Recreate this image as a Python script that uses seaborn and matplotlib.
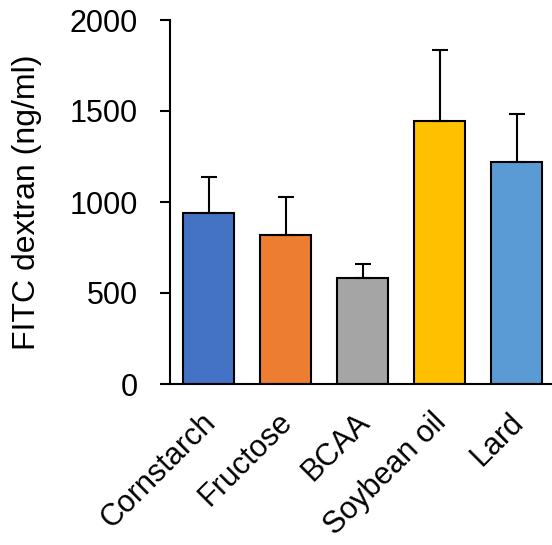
import pandas as pd
import seaborn as sns
import matplotlib.pyplot as plt
import matplotlib.transforms as mtransforms

# datos
grupos = ["Cornstarch", "Fructose", "BCAA", "Soybean oil", "Lard"]
media = [942, 816, 580, 1444, 1219]
error = [194, 214, 80, 390, 267]
colores = ["#4472C4", "#ED7D31", "#A5A5A5", "#FFC000", "#5B9BD5"]

df = pd.DataFrame({"grupo": grupos, "fitc": media, "sd": error})

sns.set_style("ticks")
plt.rcParams["font.family"] = ["Liberation Sans", "DejaVu Sans"]
plt.rcParams["text.color"] = "black"
plt.rcParams["xtick.color"] = "black"
plt.rcParams["ytick.color"] = "black"
plt.rcParams["axes.labelcolor"] = "black"
plt.rcParams["axes.edgecolor"] = "black"

fig = plt.figure(figsize=(5.52, 5.45), dpi=100)
ax = fig.add_axes([170 / 552, 1 - 384 / 545, 382 / 552, 364 / 545])

sns.barplot(data=df, x="grupo", y="fitc", hue="grupo", palette=colores,
            saturation=1, width=0.67, edgecolor="black", linewidth=1.5,
            errorbar=None, legend=False, ax=ax)

# solo barra de error superior
ax.errorbar(range(len(grupos)), df["fitc"], yerr=[[0] * len(grupos), df["sd"]],
            fmt="none", ecolor="black", elinewidth=1.5, capsize=5.5, capthick=1.5)

ax.set_ylim(0, 2000)
ax.set_xlim(-0.5, 4.46)
ax.set_yticks([0, 500, 1000, 1500, 2000])
ax.tick_params(axis="y", labelsize=22, length=7, width=1.5, pad=16)
ax.tick_params(axis="x", length=0, labelsize=22, pad=8)
ax.set_xticks(range(len(grupos)))
ax.set_xticklabels(grupos, rotation=45, ha="right", rotation_mode="anchor")
# desplazar un poco las etiquetas (abajo e izquierda)
desplaz = mtransforms.ScaledTranslation(-8 / 100, -12 / 100, fig.dpi_scale_trans)
for lab in ax.get_xticklabels():
    lab.set_transform(lab.get_transform() + desplaz)
ax.set_xlabel("")
ax.set_ylabel("FITC dextran (ng/ml)", fontsize=23)
ax.yaxis.set_label_coords(-128 / 382, 0.5)

sns.despine(ax=ax)
ax.spines["left"].set_linewidth(1.5)
ax.spines["bottom"].set_linewidth(1.5)

fig.savefig("out.png", dpi=100)
